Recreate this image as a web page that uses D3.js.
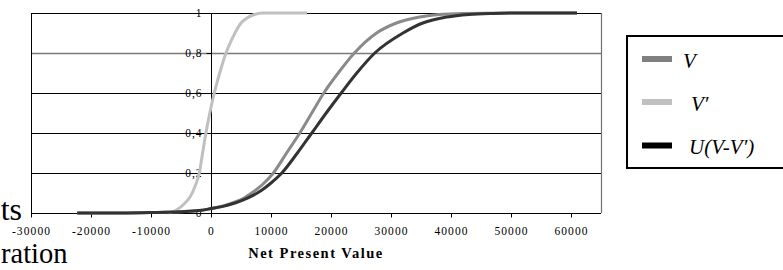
<!DOCTYPE html>
<html><head><meta charset="utf-8">
<script src="https://cdn.jsdelivr.net/npm/d3@7"></script>
<style>body{margin:0;background:#fff}svg{display:block}</style>
</head><body>
<svg id="c" width="783" height="270"></svg>
<script>
// ---- data ----
const xTicks = [-30000,-20000,-10000,0,10000,20000,30000,40000,50000,60000];
const yTicks = [0,0.2,0.4,0.6,0.8,1];
const yTickLabels = ["0","0,2","0,4","0,6","0,8","1"];
const seriesNames = ["V","V\u2032","U(V-V\u2032)"];

const vNPV  = [-22300,-15000,-10000,-5000,-2000,0,2000,4000,5500,7000,8500,10400,12600,14800,16800,18800,21200,23900,27600,30900,34800,38000,42000,50000,61000];
const vProb = [0,0,0.002,0.006,0.012,0.022,0.035,0.055,0.075,0.105,0.14,0.2,0.3,0.4,0.5,0.6,0.7,0.8,0.9,0.95,0.98,0.993,0.998,1,1];

const vpNPV  = [-7300,-6500,-5500,-4500,-3500,-2700,-1950,-1400,-850,-200,550,1450,2500,3200,4000,5000,6000,7000,8500,16000];
const vpProb = [0,0.005,0.02,0.045,0.08,0.13,0.2,0.3,0.4,0.5,0.6,0.7,0.8,0.85,0.9,0.95,0.975,0.99,1,1];

const uNPV  = [-22300,-15000,-10000,-5000,-2000,0,2000,4000,5500,7000,8500,10000,11800,14400,16800,19200,21700,24300,27300,32000,35300,39300,43000,47000,52000,61000];
const uProb = [0,0,0.002,0.006,0.012,0.022,0.033,0.05,0.067,0.088,0.115,0.15,0.2,0.3,0.4,0.5,0.6,0.7,0.8,0.9,0.95,0.98,0.993,0.998,1,1];

// ---- chart ----
const svg = d3.select("#c");
const x = d3.scaleLinear().domain([-30000,65000]).range([31,601]);
const y = d3.scaleLinear().domain([0,1]).range([213,13]);
const serif = "Liberation Serif, Times New Roman, serif";

// gridlines
svg.append("g").selectAll("line").data(yTicks.filter(d=>d>0&&d<1)).join("line")
  .attr("x1",x.range()[0]).attr("x2",x.range()[1])
  .attr("y1",d=>y(d)+0.5).attr("y2",d=>y(d)+0.5)
  .attr("stroke",d=>d===0.8?"#7a7a7a":"#000").attr("stroke-width",d=>d===0.8?1.6:1);

// frame
svg.append("line").attr("x1",x.range()[0]).attr("x2",x.range()[1]).attr("y1",13.5).attr("y2",13.5).attr("stroke","#000");
svg.append("line").attr("x1",601.5).attr("x2",601.5).attr("y1",13).attr("y2",213).attr("stroke","#707070").attr("stroke-width",1.2);
svg.append("line").attr("x1",31.5).attr("x2",31.5).attr("y1",13).attr("y2",213).attr("stroke","#000");

// x axis
const xAxis = d3.axisBottom(x).tickValues(xTicks).tickSize(4).tickFormat(d=>String(d));
const gx = svg.append("g").attr("transform","translate(0,213.5)").call(xAxis);
gx.select(".domain").attr("stroke","#000").attr("d",`M${x.range()[0]},0H${x.range()[1]}`);
gx.selectAll(".tick line").attr("stroke","#000");
gx.selectAll("text").attr("font-family",serif).attr("font-size",11.5).attr("letter-spacing","1.1px")
  .attr("fill","#000").attr("y",13.5);

// y axis at x=0
const yAxis = d3.axisLeft(y).tickValues(yTicks).tickSize(5).tickFormat((d,i)=>yTickLabels[i]);
const gy = svg.append("g").attr("transform",`translate(${x(0)+0.5},0)`).call(yAxis);
gy.select(".domain").attr("stroke","#000").attr("d","M0,13V213");
gy.selectAll(".tick line").attr("stroke","#000");
gy.selectAll("text").attr("font-family",serif).attr("font-size",11.5).attr("letter-spacing","1px")
  .attr("fill","#000").attr("x",-9);

// lines
const line = d3.line().x(d=>x(d[0])).y(d=>y(d[1])).curve(d3.curveMonotoneX);
const series = [
  {pts: d3.zip(vpNPV,vpProb), color:"#c0c0c0"},
  {pts: d3.zip(vNPV,vProb),   color:"#8a8a8a"},
  {pts: d3.zip(uNPV,uProb),   color:"#333333"}
];
svg.append("g").selectAll("path").data(series).join("path")
  .attr("d",d=>line(d.pts)).attr("fill","none")
  .attr("stroke",d=>d.color).attr("stroke-width",3).attr("stroke-linejoin","round");

// axis title
svg.append("text").attr("x",316).attr("y",258).attr("text-anchor","middle")
  .attr("font-family",serif).attr("font-weight","bold").attr("font-size",14.5)
  .attr("letter-spacing","1.5px").text("Net Present Value");

// stray document text
svg.append("text").attr("x",22).attr("y",220).attr("text-anchor","end")
  .attr("font-family",serif).attr("font-size",32).text("ts");
svg.append("text").attr("x",1).attr("y",263).attr("font-family",serif).attr("font-size",28.5).text("ration");

// legend
const lg = svg.append("g");
lg.append("rect").attr("x",627).attr("y",36).attr("width",170).attr("height",132)
  .attr("fill","#fff").attr("stroke","#000").attr("stroke-width",2);
const legColors = ["#808080","#c0c0c0","#000000"];
const legY = [59,102,145.5];
const legTx = [683,691,689];
seriesNames.forEach((n,i)=>{
  lg.append("rect").attr("x",642).attr("y",legY[i]-3).attr("width",30).attr("height",6).attr("fill",legColors[i]);
  lg.append("text").attr("x",legTx[i]).attr("y",legY[i]+8.5).attr("font-family",serif)
    .attr("font-style","italic").attr("font-size",21).text(n);
});
</script>
</body></html>
